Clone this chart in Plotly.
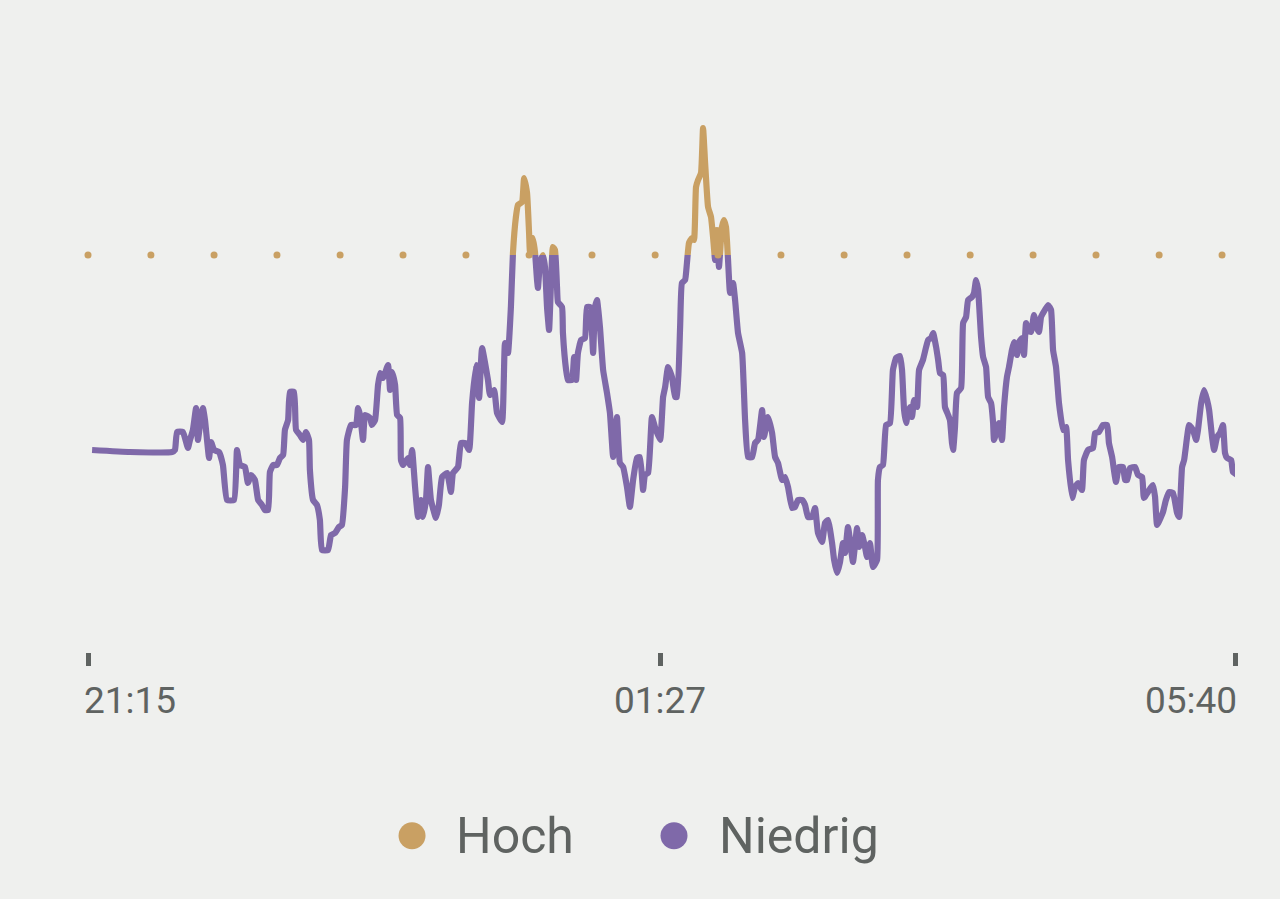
import plotly.graph_objects as go

# Minutes after 21:15 and the variation level (arbitrary units).
minutes = [
    1.8, 18.5, 37.0, 38.3, 39.2, 41.8, 44.0, 44.9, 46.2, 47.6,
    48.4, 49.3, 50.6, 51.5, 52.4, 53.3, 54.2, 55.5, 57.7, 59.4,
    61.2, 64.3, 65.6, 66.9, 69.1, 70.4, 71.8, 73.5, 74.9, 76.6,
    77.9, 79.3, 80.1, 81.5, 83.2, 84.5, 85.9, 86.7, 88.1, 88.9,
    90.7, 91.6, 93.3, 94.7, 96.0, 97.3, 97.7, 99.1, 100.8, 102.1,
    103.0, 105.7, 107.0, 108.8, 110.5, 111.8, 113.2, 114.0, 115.8, 118.0,
    118.9, 119.8, 121.1, 122.0, 124.2, 125.0, 126.4, 127.7, 128.6, 129.9,
    132.1, 133.0, 133.9, 135.2, 136.1, 137.4, 137.8, 138.7, 140.9, 141.8,
    142.7, 144.0, 145.3, 146.6, 147.5, 148.8, 149.7, 151.0, 153.2, 154.5,
    155.9, 158.1, 159.8, 160.7, 162.9, 164.2, 166.0, 167.8, 169.1, 170.8,
    172.2, 173.5, 176.1, 177.0, 178.8, 180.1, 182.3, 183.6, 184.9, 186.2,
    187.1, 188.4, 189.3, 191.1, 192.0, 193.3, 194.2, 194.6, 195.9, 196.8,
    197.7, 198.1, 199.0, 200.3, 201.2, 202.1, 203.0, 203.9, 204.7, 205.6,
    206.5, 206.9, 208.7, 209.1, 210.5, 211.3, 213.1, 214.0, 214.9, 215.7,
    217.1, 218.8, 219.7, 221.0, 222.4, 223.2, 224.1, 225.4, 226.8, 228.5,
    229.8, 231.2, 232.0, 232.9, 234.2, 235.6, 237.3, 238.6, 240.0, 241.7,
    243.0, 244.4, 245.2, 246.6, 248.3, 249.6, 251.9, 253.2, 254.1, 255.4,
    257.1, 258.5, 259.3, 260.7, 261.5, 262.9, 263.7, 264.6, 265.9, 266.8,
    267.7, 268.6, 269.9, 270.8, 271.7, 273.0, 274.3, 275.2, 276.1, 276.9,
    277.8, 279.1, 280.0, 280.9, 281.8, 282.7, 284.0, 284.9, 286.2, 288.0,
    289.3, 290.6, 292.4, 293.7, 295.0, 296.8, 297.6, 299.4, 301.2, 302.5,
    303.8, 305.6, 306.9, 308.2, 310.0, 311.3, 312.6, 314.4, 315.7, 317.0,
    318.8, 320.1, 321.4, 323.2, 324.5, 325.8, 327.6, 328.5, 329.8, 331.1,
    332.4, 333.3, 334.6, 335.9, 336.8, 338.6, 339.5, 340.8, 342.1, 343.0,
    344.3, 345.6, 347.4, 347.8, 348.7, 350.0, 351.4, 353.1, 354.4, 355.8,
    357.5, 358.4, 359.3, 360.2, 361.0, 361.9, 362.8, 363.7, 365.0, 365.9,
    367.6, 369.0, 369.9, 371.2, 372.1, 373.4, 374.3, 375.1, 376.5, 377.3,
    378.7, 379.5, 380.4, 380.9, 381.7, 382.6, 384.4, 385.3, 386.6, 387.5,
    389.2, 390.1, 391.0, 391.9, 393.2, 394.1, 395.4, 396.3, 397.6, 398.5,
    398.9, 400.2, 401.1, 402.4, 403.3, 404.6, 405.5, 406.8, 407.7, 409.0,
    409.9, 411.2, 412.1, 413.0, 413.9, 415.2, 416.5, 417.8, 418.7, 419.6,
    420.5, 422.7, 424.0, 424.9, 426.2, 427.5, 429.3, 430.6, 431.5, 433.3,
    434.6, 435.9, 437.6, 438.5, 440.3, 442.5, 443.4, 445.1, 446.9, 448.7,
    449.5, 450.9, 451.7, 452.6, 453.9, 455.7, 456.6, 457.5, 458.8, 461.0,
    462.3, 464.1, 464.9, 466.7, 468.9, 469.8, 470.7, 472.4, 473.3, 474.6,
    476.0, 477.7, 479.5, 480.4, 481.7, 482.6, 483.9, 484.8, 486.5, 487.9,
    488.7, 490.1, 491.4, 492.7, 493.6, 494.9, 495.8, 497.1, 498.4, 499.7,
    500.6, 501.5, 503.3, 504.1, 505.9,
]

level = [
    31, 30.6, 30.6, 31, 34.6, 34.6, 31.4, 33, 35, 39.4,
    33, 36, 39.4, 37, 33, 29.4, 32.6, 31, 30.6, 28,
    21, 21, 31, 28, 27.6, 24.4, 26, 25, 21, 20,
    19, 19, 26.6, 28, 28, 29.4, 30, 35, 37, 42.6,
    42.6, 35, 34, 33, 34.6, 33, 27, 21, 20, 17,
    11, 11, 14, 14.4, 15.6, 16, 23.6, 33, 36, 36,
    39.4, 38, 33, 38, 37.4, 36, 37, 44, 46.4, 45.4,
    48, 43, 46.6, 44, 38, 37.4, 29, 28, 29.4, 28,
    31, 23.6, 17.6, 21, 17.6, 21, 27.6, 21, 17.4, 20,
    25.6, 26.4, 22.6, 26.4, 27.6, 32.4, 32.4, 31, 40.4, 48,
    41.4, 51.4, 45, 42, 43, 38.4, 36.6, 52.4, 50.4, 59.6,
    70.4, 77.6, 80, 80.6, 85.4, 82.4, 74.4, 70.6, 73.4, 70.6,
    65, 63.4, 68.4, 70, 67.6, 59.6, 55, 65, 71.6, 71,
    63.6, 60.6, 59.6, 54.4, 47, 45, 45, 49.6, 45, 50.4,
    53, 53.4, 59.6, 59.6, 50.4, 59.6, 61, 55.6, 47, 42.4,
    38.4, 29.6, 33, 37.6, 28.4, 27.6, 23.6, 19.6, 25, 29.4,
    29.6, 23, 26, 26.4, 37.6, 35.6, 33, 41.6, 43.6, 47.6,
    45.6, 41.6, 41.6, 55.6, 64.4, 65, 68.4, 72.4, 73.4, 73,
    83.6, 85, 86.4, 95.4, 88.4, 79.6, 77.6, 73.6, 69, 75,
    67.6, 75.6, 77, 75.6, 69, 62.4, 64.4, 61, 54.4, 50.4,
    37, 29.6, 29.6, 32.4, 33, 39, 33.6, 37.6, 34.4, 29.6,
    28.4, 25, 25.6, 23.6, 19.4, 19.6, 21, 21, 20, 17.6,
    17.6, 19.4, 14.4, 12.6, 16.4, 17, 12.4, 9, 6.4, 8.6,
    12.4, 10.4, 15.6, 11.4, 8.6, 15.4, 11.6, 14, 11.6, 9.6,
    12.4, 7.6, 9, 25, 27.6, 28, 36, 36.4, 47, 49.4,
    49.8, 47, 39, 36.4, 38.4, 39.6, 37.6, 41, 39.6, 47,
    49, 51.6, 53, 53.4, 54.4, 51.6, 49, 46.4, 46, 39.6,
    38, 37, 32.4, 31, 35.4, 42.4, 43.4, 56.4, 57.6, 61,
    61.6, 62.4, 65, 63, 53.6, 49.6, 47.6, 41.6, 40.4, 36.4,
    33, 35, 36.4, 33, 39.6, 45.6, 47.6, 51, 52.6, 50,
    52.6, 53.4, 50, 56.4, 55, 54.6, 58, 55.4, 54.6, 57.6,
    58.4, 60, 59, 51, 47.6, 40.4, 35, 35.6, 29, 21.4,
    23.6, 24.4, 23, 29, 31, 31.4, 34.4, 34.6, 36, 36,
    32.4, 29.6, 27, 24.6, 27.6, 27.6, 25, 25, 27.4, 27.6,
    26, 25.6, 21.4, 22.6, 24, 21.6, 16, 17.6, 18.6, 21,
    22.6, 22.4, 18.4, 17.6, 27.6, 29, 33.6, 36, 35, 33,
    35, 40.4, 43, 41, 39, 33.6, 31, 33.6, 34.4, 36,
    30.4, 29.4, 29, 26.6, 26,
]

if len(minutes) != len(level):
    raise ValueError(f"length mismatch {len(minutes)} vs {len(level)}")

threshold = 70
threshold_dots = [0, 27.7, 55.5, 83.2, 111.0, 138.7, 166.4, 194.2, 221.9, 249.7,
                  277.4, 305.1, 332.9, 360.6, 388.4, 416.1, 443.8, 471.6, 499.3]

tick_minutes = [0, 252, 505]
tick_labels = ["21:15", "01:27", "05:40"]
legend_names = ["Hoch", "Niedrig"]

GOLD = "#c9a063"
PURPLE = "#7f69a9"
TEXT = "#5f6361"
BG = "#eff0ee"
FONT = "Roboto"

y_min, y_max = -9.4, 101
split = (threshold - y_min) / (y_max - y_min)

fig = go.Figure()

# the same series drawn twice: each subplot clips it at the threshold
line_style = dict(width=6.2, shape="spline", smoothing=0.4)
fig.add_trace(go.Scatter(x=minutes, y=level, mode="lines", xaxis="x", yaxis="y",
                         line=dict(color=PURPLE, **line_style), showlegend=False, hoverinfo="skip"))
fig.add_trace(go.Scatter(x=minutes, y=level, mode="lines", xaxis="x", yaxis="y2",
                         line=dict(color=GOLD, **line_style), showlegend=False, hoverinfo="skip"))

fig.add_trace(go.Scatter(x=threshold_dots, y=[threshold] * len(threshold_dots), mode="markers",
                         xaxis="x", yaxis="y2", cliponaxis=False,
                         marker=dict(color=GOLD, size=7), showlegend=False, hoverinfo="skip"))

fig.update_layout(
    width=1280, height=899,
    margin=dict(l=88, r=45, t=100, b=247),
    paper_bgcolor=BG, plot_bgcolor=BG,
    font=dict(family=FONT, color=TEXT),
    xaxis=dict(range=[0, 505], showgrid=False, zeroline=False, showline=False,
               tickvals=tick_minutes, showticklabels=False,
               ticks="outside", ticklen=13, tickwidth=5, tickcolor=TEXT),
    yaxis=dict(domain=[0, split], range=[y_min, threshold], visible=False),
    yaxis2=dict(domain=[split, 1], range=[threshold, y_max], visible=False, anchor="x"),
)

# tick labels: first left-aligned, middle centred, last right-aligned
anchors = ["left", "center", "right"]
shifts = [-6, 0, 4]
for m, lab, a, s in zip(tick_minutes, tick_labels, anchors, shifts):
    fig.add_annotation(x=m, y=-0.087, xref="x", yref="paper", text=lab, showarrow=False,
                       xanchor=a, yanchor="middle", xshift=s, font=dict(size=37, color=TEXT))

# legend built from circles and text
legend_dot_x = [0.2825, 0.5109]
legend_text_x = [0.3190, 0.5480]
for name, col, dx, tx in zip(legend_names, [GOLD, PURPLE], legend_dot_x, legend_text_x):
    fig.add_shape(type="circle", xref="paper", yref="paper", xsizemode="pixel", ysizemode="pixel",
                  xanchor=dx, yanchor=-0.333, x0=-13.5, x1=13.5, y0=-13.5, y1=13.5,
                  fillcolor=col, line=dict(width=0))
    fig.add_annotation(x=tx, y=-0.333, xref="paper", yref="paper", text=name, showarrow=False,
                       xanchor="left", yanchor="middle", font=dict(size=50, color=TEXT))

fig.write_html("out.html", config={"displayModeBar": False}, post_script=(
    "document.body.style.margin='0';"
    "document.body.style.background='" + BG + "';"
))
